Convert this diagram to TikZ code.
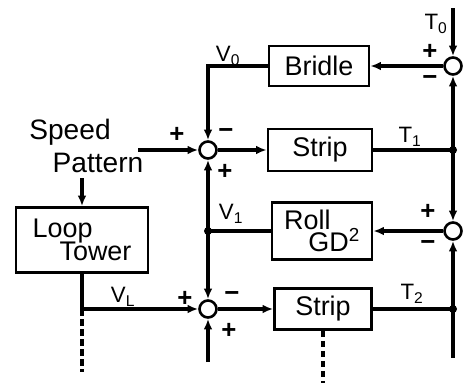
\documentclass[tikz,border=0pt]{standalone}
\usepackage{fontspec}
\setmainfont{Liberation Sans}
\usepackage{tikz}
\usetikzlibrary{arrows.meta,positioning,calc}

\begin{document}
\begin{tikzpicture}[x=0.3mm, y=-0.3mm,
  blk/.style={draw, rectangle, line width=2.2pt, inner sep=2pt,
              font=\fontsize{23}{21}\selectfont, align=left},
  sumj/.style={draw, circle, line width=2.2pt, fill=white,
               minimum size=5.1mm, inner sep=0pt},
  sig/.style={-{Latex[length=3.2mm,width=2.6mm]}, line width=2.6pt},
  wire/.style={line width=2.6pt},
  dsh/.style={line width=2.6pt, dash pattern=on 2mm off 1mm},
  lab/.style={font=\fontsize{19}{20}\selectfont, inner sep=0pt},
  pm/.style={font=\fontsize{22}{22}\selectfont\bfseries, inner sep=0pt},
  txt/.style={font=\fontsize{24}{24}\selectfont, inner sep=0pt}
]
\useasboundingbox (0,0) rectangle (470,383);

% blocks
\node[blk, minimum width=30mm, minimum height=12mm] (BR) at (319,66) {Bridle};
\node[blk, minimum width=31.2mm, minimum height=12.6mm] (ST1) at (320,150) {Strip};
\node[blk, minimum width=30mm, minimum height=17.1mm] (RG) at (322,231)
  {Roll\\[-2pt]\hspace{0.9em}GD\textsuperscript{2}};
\node[blk, minimum width=29.1mm, minimum height=12.3mm] (ST2) at (323,309) {Strip};
\node[blk, minimum width=39.6mm, minimum height=19.5mm] (LT) at (82,240)
  {Loop\\[-1pt]\hspace{1em}Tower};

% summing junctions
\node[sumj] (S1) at (208,150) {};
\node[sumj] (S2) at (208,309) {};
\node[sumj] (R1) at (453,66) {};
\node[sumj] (R2) at (453,231) {};

% branch points and free ends
\coordinate (V0c) at (208,66);
\coordinate (V1) at (208,231);
\coordinate (T1) at (453,150);
\coordinate (T2) at (453,309);
\coordinate (LB) at (82,309);
\coordinate (Ttop) at (453,8);
\coordinate (Tend) at (453,358);
\coordinate (Lend) at (82,372);
\coordinate (S2in) at (208,362);
\coordinate (S2end) at (323,383);
\coordinate (SP) at (138,150);
\coordinate (SPd) at (82,178);
\foreach \p in {V1,T1,T2} \fill (\p) circle (1.2mm);

% speed pattern
\node[txt] (SPa) at (70,132) {Speed};
\node[txt] (SPb) at (98,163) {Pattern};
\draw[sig] (SP) -- (S1);
\draw[sig] (SPd) -- (LT);

% loops
\draw[sig] (BR) -- (V0c) -- (S1);
\draw[sig] (Ttop) -- (R1);
\draw[sig] (R1) -- (BR);
\draw[sig] (S1) -- (ST1);
\draw[wire] (ST1) -- (T1);
\draw[sig] (T1) -- (R1);
\draw[sig] (T1) -- (R2);
\draw[sig] (R2) -- (RG);
\draw[wire] (RG) -- (V1);
\draw[sig] (V1) -- (S1);
\draw[sig] (V1) -- (S2);
\draw[sig] (S2) -- (ST2);
\draw[wire] (ST2) -- (T2);
\draw[sig] (T2) -- (R2);
\draw[wire] (T2) -- (Tend);
\draw[wire] (LT) -- (LB);
\draw[sig] (LB) -- (S2);
\draw[sig] (S2in) -- (S2);
\draw[dsh] (LB) -- (Lend);
\draw[dsh] (ST2) -- (S2end);

% signal labels
\node[lab] (lV0) at (228,56) {V\textsubscript{0}};
\node[lab] (lV1) at (231,214) {V\textsubscript{1}};
\node[lab] (lVL) at (123,297) {V\textsubscript{L}};
\node[lab] (lT0) at (436,24) {T\textsubscript{0}};
\node[lab] (lT1) at (410,137) {T\textsubscript{1}};
\node[lab] (lT2) at (412,294) {T\textsubscript{2}};

% signs
\node[pm] (p1) at (177,135) {+};
\node[pm] (m1) at (226,134) {−};
\node[pm] (p2) at (225,172) {+};
\node[pm] (p3) at (185,299) {+};
\node[pm] (m3) at (232,297) {−};
\node[pm] (p4) at (229,331) {+};
\node[pm] (p5) at (430,52) {+};
\node[pm] (m5) at (430,81) {−};
\node[pm] (p6) at (428,212) {+};
\node[pm] (m6) at (428,246) {−};
\end{tikzpicture}
\end{document}
